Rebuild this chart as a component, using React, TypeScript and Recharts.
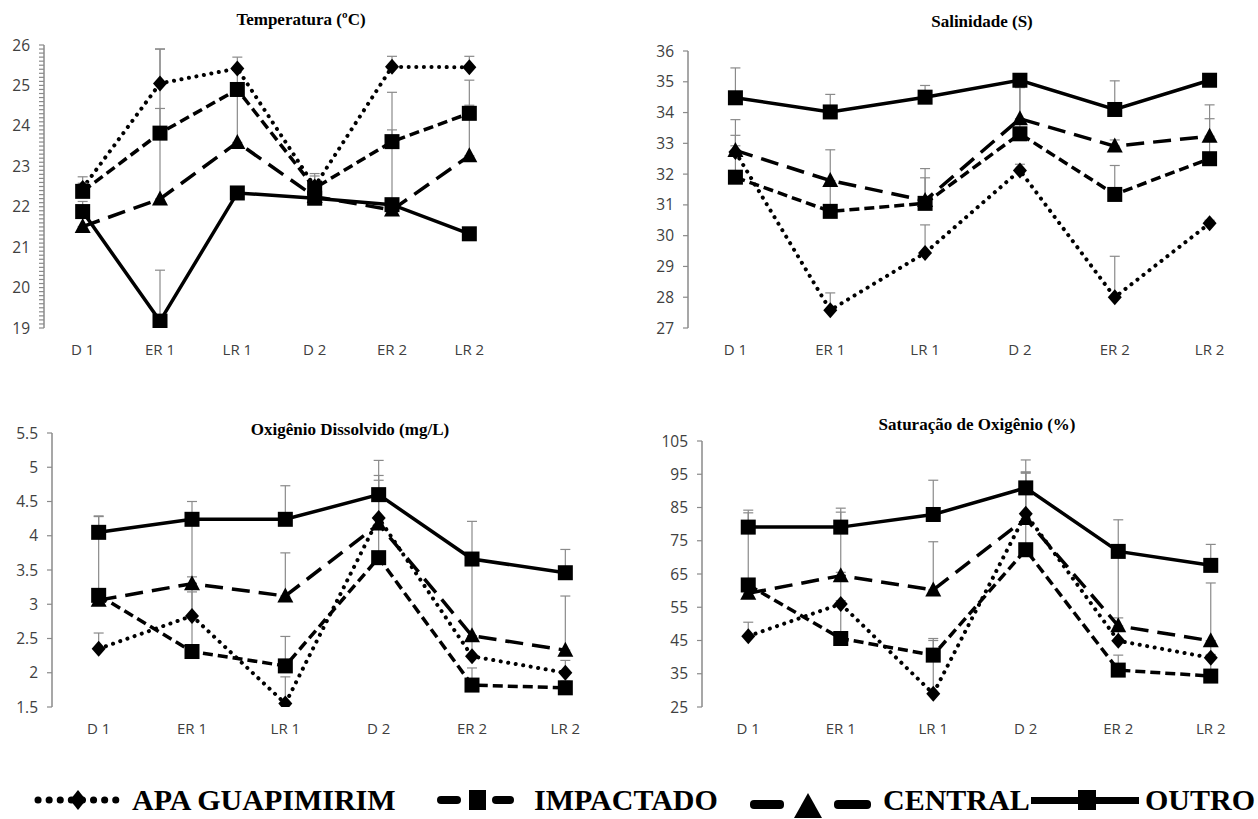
import React from "react";
import { LineChart, Line, XAxis, YAxis, ErrorBar } from "recharts";

document.body.style.margin = "0";
document.body.style.overflow = "hidden";

const SAMPLES = ["D 1", "ER 1", "LR 1", "D 2", "ER 2", "LR 2"];

// Temperatura (ºC)
const tempApa = [22.46, 25.05, 25.42, 22.5, 25.46, 25.45];
const tempImp = [22.38, 23.82, 24.9, 22.46, 23.61, 24.31];
const tempCen = [21.51, 22.19, 23.59, 22.25, 21.92, 23.26];
const tempOut = [21.88, 19.17, 22.34, 22.21, 22.05, 21.33];
const tempApaErr = [0.28, 0.85, 0.28, 0.32, 0.26, 0.27];
const tempImpErr = [0.2, 2.08, 0.5, 0.3, 1.22, 0.2];
const tempCenErr = [0.3, 2.24, 1.3, 0.2, 1.98, 1.87];
const tempOutErr = [0.25, 1.26, 0.1, 0.15, 0.1, 0.1];
const tempTicks = [19, 20, 21, 22, 23, 24, 25, 26];

// Salinidade (S)
const salApa = [32.72, 27.58, 29.44, 32.12, 28.0, 30.4];
const salImp = [31.9, 30.79, 31.05, 33.31, 31.34, 32.5];
const salCen = [32.77, 31.79, 31.14, 33.8, 32.91, 33.23];
const salOut = [34.48, 34.02, 34.5, 35.05, 34.1, 35.05];
const salApaErr = [0.2, 0.56, 0.91, 0.2, 1.33, 0.1];
const salImpErr = [1.36, 1.0, 0.83, 1.5, 0.94, 1.3];
const salCenErr = [1.0, 1.0, 1.04, 1.1, 0.2, 1.02];
const salOutErr = [0.97, 0.57, 0.38, 0.1, 0.93, 0.1];
const salTicks = [27, 28, 29, 30, 31, 32, 33, 34, 35, 36];

// Oxigênio Dissolvido (mg/L)
const odApa = [2.35, 2.83, 1.55, 4.26, 2.24, 2.0];
const odImp = [3.13, 2.31, 2.1, 3.68, 1.82, 1.78];
const odCen = [3.06, 3.3, 3.12, 4.17, 2.54, 2.33];
const odOut = [4.05, 4.24, 4.24, 4.6, 3.66, 3.46];
const odApaErr = [0.23, 0.35, 0.39, 0.62, 0.3, 0.18];
const odImpErr = [1.15, 1.9, 0.43, 0.6, 0.25, 0.1];
const odCenErr = [0.1, 0.1, 0.63, 0.64, 1.03, 0.79];
const odOutErr = [0.24, 0.26, 0.49, 0.5, 0.55, 0.34];
const odTicks = [1.5, 2, 2.5, 3, 3.5, 4, 4.5, 5, 5.5];

// Saturação de Oxigênio (%)
const satApa = [46.3, 56.0, 29.0, 83.1, 44.9, 39.8];
const satImp = [61.7, 45.6, 40.6, 72.3, 36.1, 34.3];
const satCen = [59.2, 64.5, 60.2, 81.7, 49.4, 44.9];
const satOut = [79.1, 79.1, 82.9, 90.9, 71.8, 67.6];
const satApaErr = [4.2, 1.0, 16.0, 12.5, 27.0, 1.0];
const satImpErr = [21.7, 38.0, 5.0, 23.0, 4.5, 10.6];
const satCenErr = [1.0, 1.0, 14.5, 14.0, 2.4, 17.4];
const satOutErr = [5.1, 5.7, 10.3, 8.4, 9.5, 6.3];
const satTicks = [25, 35, 45, 55, 65, 75, 85, 95, 105];

const AXIS = "#8a8a8a";
const LABEL = "#404040";

const Square = (p: any) =>
  p.cx == null ? null : <rect key={`s${p.index}`} x={p.cx - 7.5} y={p.cy - 7.5} width={15} height={15} fill="#000" />;
const Diamond = (p: any) =>
  p.cx == null ? null : (
    <polygon
      key={`d${p.index}`}
      points={`${p.cx},${p.cy - 8} ${p.cx + 7},${p.cy} ${p.cx},${p.cy + 8} ${p.cx - 7},${p.cy}`}
      fill="#000"
    />
  );
const Triangle = (p: any) =>
  p.cx == null ? null : (
    <polygon
      key={`t${p.index}`}
      points={`${p.cx},${p.cy - 8.5} ${p.cx + 8},${p.cy + 6.5} ${p.cx - 8},${p.cy + 6.5}`}
      fill="#000"
    />
  );

const SERIES = [
  { key: "apa", dash: "0.1 7.5", width: 4, dot: Diamond },
  { key: "imp", dash: "10 5", width: 3.5, dot: Square },
  { key: "cen", dash: "18 9", width: 3.5, dot: Triangle },
  { key: "out", dash: undefined, width: 3.5, dot: Square },
];

function buildRows(vals: Record<string, number[]>, errs: Record<string, number[]>) {
  return SAMPLES.map((name, i) => {
    const row: any = { x: i + 0.5, name };
    SERIES.forEach((s) => {
      row[s.key] = vals[s.key][i];
      row[s.key + "Err"] = [0, errs[s.key][i]];
    });
    return row;
  });
}

interface PanelProps {
  left: number;
  top: number;
  width: number;
  height: number;
  yWidth: number;
  mTop: number;
  mBottom: number;
  mRight: number;
  rows: any[];
  ticks: number[];
  minor?: boolean;
}

function Panel({ left, top, width, height, yWidth, mTop, mBottom, mRight, rows, ticks, minor }: PanelProps) {
  const lo = ticks[0];
  const hi = ticks[ticks.length - 1];
  let yTicks = ticks;
  if (minor) {
    yTicks = [];
    for (let k = 0; k <= Math.round((hi - lo) * 10); k++) yTicks.push(Math.round((lo + k * 0.1) * 10) / 10);
  }
  const catTicks = SAMPLES.map((_, i) => i + 0.5);
  const edgeTicks = [0, ...SAMPLES.map((_, i) => i + 1)];
  return (
    <div style={{ position: "absolute", left, top }}>
      <LineChart width={width} height={height} data={rows} margin={{ top: mTop, right: mRight, bottom: mBottom, left: 0 }}>
        <XAxis
          xAxisId="t"
          type="number"
          dataKey="x"
          domain={[0, SAMPLES.length]}
          ticks={edgeTicks}
          interval={0}
          height={0}
          tick={false}
          tickSize={5}
          axisLine={{ stroke: AXIS, strokeWidth: 1.5 }}
          tickLine={{ stroke: AXIS, strokeWidth: 1.5 }}
        />
        <XAxis
          xAxisId="l"
          type="number"
          dataKey="x"
          domain={[0, SAMPLES.length]}
          ticks={catTicks}
          interval={0}
          height={40}
          axisLine={false}
          tickLine={false}
          tickSize={0}
          tickMargin={16}
          tickFormatter={(v: number) => SAMPLES[Math.floor(v)]}
          tick={{ fill: LABEL, fontSize: 15, fontFamily: "Open Sans" }}
        />
        <YAxis
          type="number"
          domain={[lo, hi]}
          ticks={yTicks}
          interval={0}
          allowDataOverflow
          width={yWidth}
          tickSize={5}
          tickMargin={9}
          axisLine={{ stroke: AXIS, strokeWidth: 1.5 }}
          tickLine={{ stroke: AXIS, strokeWidth: 1.2 }}
          tick={{ fill: LABEL, fontSize: 15.5, fontFamily: "Open Sans" }}
          tickFormatter={(v: number) => (ticks.some((t) => Math.abs(t - v) < 1e-6) ? String(v) : "")}
        />
        {SERIES.map((s) => (
          <Line
            key={s.key}
            xAxisId="t"
            dataKey={s.key}
            stroke="#000"
            strokeWidth={s.width}
            strokeDasharray={s.dash}
            strokeLinecap={s.key === "apa" ? "round" : "butt"}
            dot={s.dot}
            activeDot={false}
            isAnimationActive={false}
          >
            <ErrorBar dataKey={s.key + "Err"} direction="y" width={5} stroke={AXIS} strokeWidth={1.2} />
          </Line>
        ))}
      </LineChart>
    </div>
  );
}

const titleStyle = (x: number, y: number): React.CSSProperties => ({
  position: "absolute",
  left: x,
  top: y,
  transform: "translate(-50%, -50%)",
  fontFamily: "Liberation Serif",
  fontWeight: "bold",
  fontSize: 17,
  color: "#000",
  whiteSpace: "nowrap",
  zIndex: 2,
});

function Legend() {
  const y = 800;
  const base = 810;
  const font = { fontFamily: "Liberation Serif", fontWeight: "bold", fontSize: 30 } as any;
  return (
    <svg width={1258} height={819} style={{ position: "absolute", left: 0, top: 0, pointerEvents: "none" }}>
      <line x1={38} y1={y} x2={120} y2={y} stroke="#000" strokeWidth={7} strokeDasharray="0.1 11" strokeLinecap="round" />
      <polygon points={`78,${y - 10} 86,${y} 78,${y + 10} 70,${y}`} fill="#000" />
      <text x={132} y={base} {...font}>APA GUAPIMIRIM</text>
      <rect x={437} y={y - 4} width={24} height={8} rx={4} fill="#000" />
      <rect x={469} y={y - 10} width={17} height={20} fill="#000" />
      <rect x={492} y={y - 4} width={22} height={8} rx={4} fill="#000" />
      <text x={534} y={base} {...font}>IMPACTADO</text>
      <rect x={750} y={y} width={34} height={9} rx={4} fill="#000" />
      <polygon points={`808,${y - 7} 822,818 794,818`} fill="#000" />
      <rect x={834} y={y} width={37} height={9} rx={4} fill="#000" />
      <text x={883} y={base} {...font}>CENTRAL</text>
      <rect x={1031} y={y - 3} width={108} height={7} fill="#000" />
      <rect x={1078} y={y - 10} width={18} height={20} fill="#000" />
      <text x={1145} y={base} {...font}>OUTRO</text>
    </svg>
  );
}

export default function App() {
  const temp = buildRows(
    { apa: tempApa, imp: tempImp, cen: tempCen, out: tempOut },
    { apa: tempApaErr, imp: tempImpErr, cen: tempCenErr, out: tempOutErr }
  );
  const sal = buildRows(
    { apa: salApa, imp: salImp, cen: salCen, out: salOut },
    { apa: salApaErr, imp: salImpErr, cen: salCenErr, out: salOutErr }
  );
  const od = buildRows(
    { apa: odApa, imp: odImp, cen: odCen, out: odOut },
    { apa: odApaErr, imp: odImpErr, cen: odCenErr, out: odOutErr }
  );
  const sat = buildRows(
    { apa: satApa, imp: satImp, cen: satCen, out: satOut },
    { apa: satApaErr, imp: satImpErr, cen: satCenErr, out: satOutErr }
  );
  return (
    <div style={{ position: "relative", width: 1258, height: 819, background: "#fff", overflow: "hidden" }}>
      <Panel left={0} top={0} width={520} height={380} yWidth={44} mTop={45} mBottom={12} mRight={12} rows={temp} ticks={tempTicks} minor />
      <Panel left={630} top={0} width={628} height={380} yWidth={58} mTop={51} mBottom={12} mRight={1} rows={sal} ticks={salTicks} />
      <Panel left={0} top={390} width={620} height={380} yWidth={52} mTop={43} mBottom={23} mRight={8} rows={od} ticks={odTicks} />
      <Panel left={630} top={390} width={628} height={380} yWidth={72} mTop={51} mBottom={23} mRight={1} rows={sat} ticks={satTicks} />
      <div style={titleStyle(301, 20)}>Temperatura (ºC)</div>
      <div style={titleStyle(982, 22)}>Salinidade (S)</div>
      <div style={titleStyle(350, 430)}>Oxigênio Dissolvido (mg/L)</div>
      <div style={titleStyle(977, 425)}>Saturação de Oxigênio (%)</div>
      <Legend />
    </div>
  );
}
